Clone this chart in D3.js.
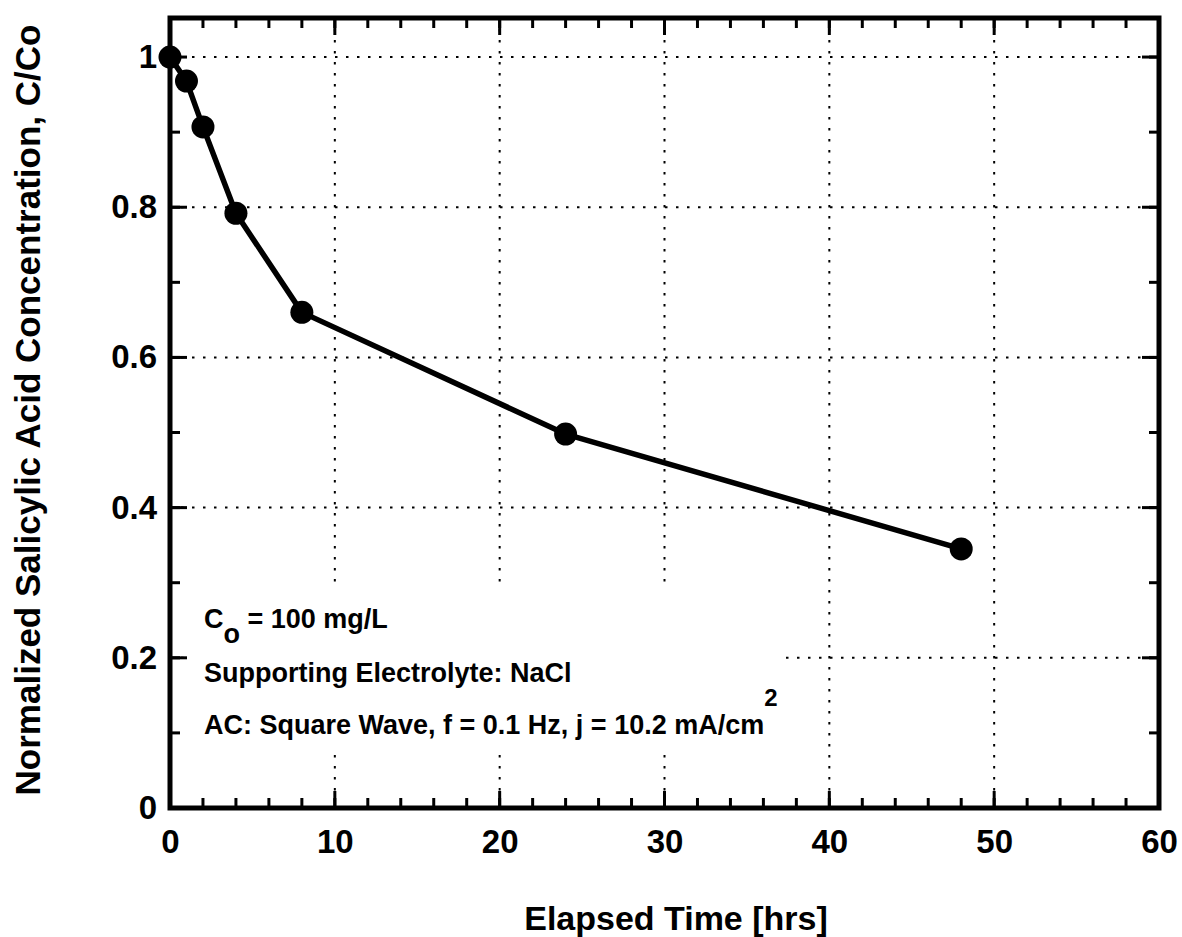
<!DOCTYPE html>
<html><head><meta charset="utf-8">
<script src="https://cdn.jsdelivr.net/npm/d3@7"></script>
<style>body{margin:0;background:#fff}svg{display:block}text{font-family:"Liberation Sans",Arial,sans-serif;font-weight:bold;fill:#000}</style>
</head><body><svg id="c" width="1182" height="937"></svg>
<script>
const timeHrs = [0, 1, 2, 4, 8, 24, 48];
const concRatio = [1.0, 0.968, 0.907, 0.792, 0.66, 0.498, 0.345];
const xTicks = [0, 10, 20, 30, 40, 50, 60];
const yTicks = [0, 0.2, 0.4, 0.6, 0.8, 1];
const xMinor = d3.range(0, 61, 2);
const yMinor = d3.range(0, 1.05, 0.1);
const yTickLabels = ["0", "0.2", "0.4", "0.6", "0.8", "1"];

const svg = d3.select("#c");
const L = 170, R = 1159, T = 18, B = 808;
const x = d3.scaleLinear().domain([0, 60]).range([L, R]);
const y = d3.scaleLinear().domain([0, 1.052]).range([B, T]);

// grid
const g = svg.append("g");
g.selectAll(".gx").data(xTicks.slice(1, -1)).join("line")
  .attr("x1", d => x(d)).attr("x2", d => x(d)).attr("y1", T).attr("y2", B)
  .attr("stroke", "#000").attr("stroke-width", 2).attr("stroke-dasharray", "2.5,8.5");
g.selectAll(".gy").data(yTicks.slice(1)).join("line")
  .attr("y1", d => y(d)).attr("y2", d => y(d)).attr("x1", L).attr("x2", R)
  .attr("stroke", "#000").attr("stroke-width", 2).attr("stroke-dasharray", "2.5,8.5");

// white box behind annotation
svg.append("rect").attr("x", 190).attr("y", 588).attr("width", 596).attr("height", 166).attr("fill", "#fff");

// ticks (inside, all four sides)
const tk = svg.append("g").attr("stroke", "#000").attr("stroke-width", 3);
function xt(vals, len) {
  vals.forEach(v => {
    tk.append("line").attr("x1", x(v)).attr("x2", x(v)).attr("y1", B).attr("y2", B - len);
    tk.append("line").attr("x1", x(v)).attr("x2", x(v)).attr("y1", T).attr("y2", T + len);
  });
}
function yt(vals, len) {
  vals.forEach(v => {
    tk.append("line").attr("y1", y(v)).attr("y2", y(v)).attr("x1", L).attr("x2", L + len);
    tk.append("line").attr("y1", y(v)).attr("y2", y(v)).attr("x1", R).attr("x2", R - len);
  });
}
xt(xMinor, 10); xt(xTicks, 17);
yt(yMinor, 10); yt(yTicks, 17);

// frame
svg.append("rect").attr("x", L).attr("y", T).attr("width", R - L).attr("height", B - T)
  .attr("fill", "none").attr("stroke", "#000").attr("stroke-width", 5);

// axes labels via d3 axes
const xAxis = d3.axisBottom(x).tickValues(xTicks).tickSize(0).tickPadding(22).tickFormat(d3.format("d"));
const xa = svg.append("g").attr("transform", `translate(0,${B})`).call(xAxis);
xa.select(".domain").remove();
xa.selectAll("text").attr("font-size", 33).attr("font-family", "Liberation Sans, Arial, sans-serif").attr("font-weight", "bold");

const yAxis = d3.axisLeft(y).tickValues(yTicks).tickSize(0).tickPadding(13).tickFormat((d, i) => yTickLabels[i]);
const ya = svg.append("g").attr("transform", `translate(${L},0)`).call(yAxis);
ya.select(".domain").remove();
ya.selectAll("text").attr("font-size", 33).attr("font-family", "Liberation Sans, Arial, sans-serif").attr("font-weight", "bold");

// titles
svg.append("text").attr("x", 676).attr("y", 930).attr("text-anchor", "middle").attr("font-size", 34).text("Elapsed Time [hrs]");
svg.append("text").attr("transform", `translate(40,${410}) rotate(-90)`).attr("text-anchor", "middle").attr("font-size", 35)
  .text("Normalized Salicylic Acid Concentration, C/Co");

// data
const pts = timeHrs.map((t, i) => [t, concRatio[i]]);
svg.append("path").datum(pts).attr("fill", "none").attr("stroke", "#000").attr("stroke-width", 5.5)
  .attr("stroke-linejoin", "round")
  .attr("d", d3.line().x(d => x(d[0])).y(d => y(d[1])));
svg.selectAll(".pt").data(pts).join("circle").attr("cx", d => x(d[0])).attr("cy", d => y(d[1])).attr("r", 11.5).attr("fill", "#000");

// annotation
const a1 = svg.append("text").attr("x", 204).attr("y", 628).attr("font-size", 27);
a1.append("tspan").text("C");
a1.append("tspan").attr("dy", 15).text("o");
a1.append("tspan").attr("dy", -15).text(" = 100 mg/L");
svg.append("text").attr("x", 204).attr("y", 682).attr("font-size", 27).text("Supporting Electrolyte: NaCl");
const a3 = svg.append("text").attr("x", 204).attr("y", 734).attr("font-size", 27);
a3.append("tspan").text("AC: Square Wave, f = 0.1 Hz, j = 10.2 mA/cm");
a3.append("tspan").attr("dy", -28).attr("font-size", 24).text("2");
</script></body></html>
